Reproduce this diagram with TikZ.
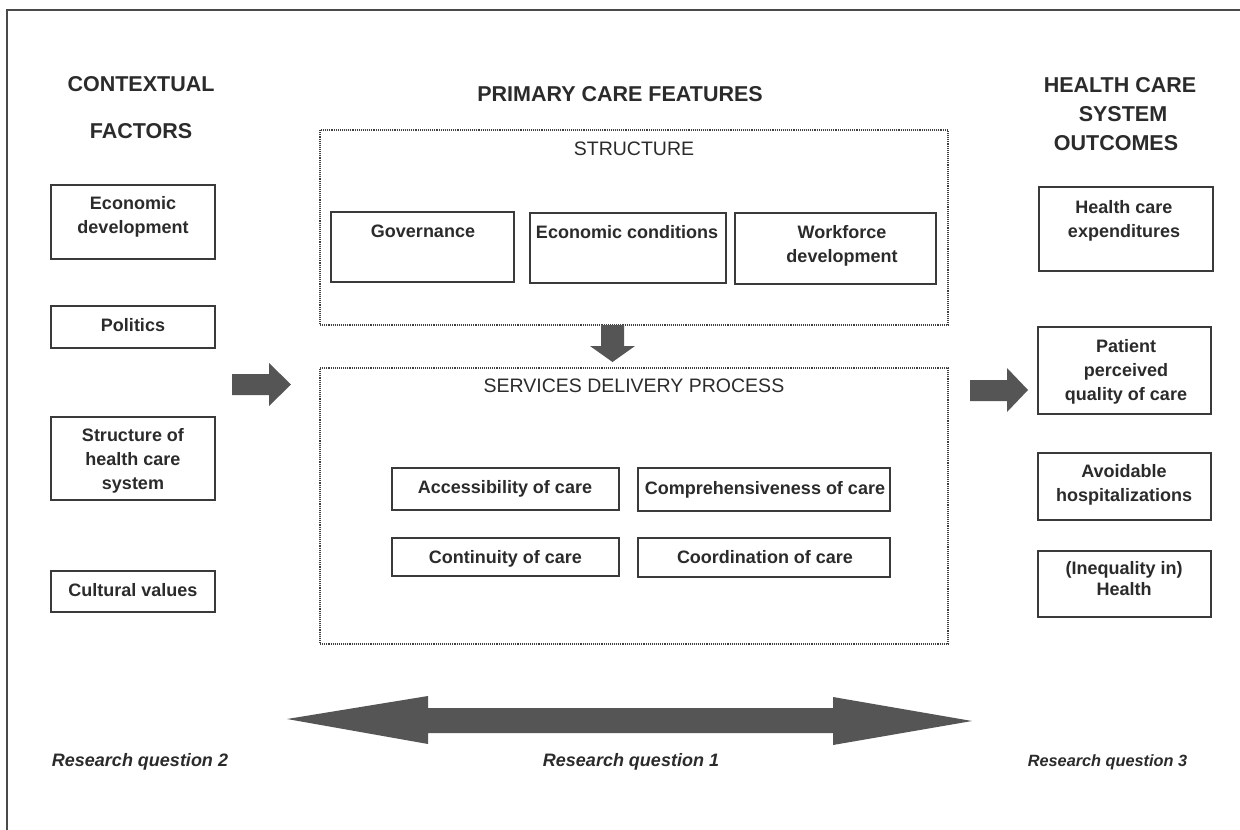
\documentclass[tikz,border=0pt]{standalone}
\usepackage{fontspec}
\setmainfont{Liberation Sans}
\definecolor{ink}{HTML}{2B2B2B}
\definecolor{boxline}{HTML}{3A3A3A}
\definecolor{dotline}{HTML}{404040}
\definecolor{arrowfill}{HTML}{555555}
\definecolor{framecol}{HTML}{4A4A4A}
\begin{document}
\begin{tikzpicture}[x=1pt,y=-1pt,
  box/.style={draw=boxline, line width=1.4pt, inner sep=0pt},
  cont/.style={draw=dotline, line width=1.1pt, densely dotted, inner sep=0pt},
  bt/.style={text=ink, font=\fontsize{18}{24}\selectfont\bfseries, align=center, text depth=0pt, inner sep=0pt},
  head/.style={text=ink, font=\fontsize{21.5}{29}\selectfont\bfseries, align=center, text depth=0pt, inner sep=0pt},
  ttl/.style={text=ink, font=\fontsize{19.5}{24}\selectfont, align=center, text depth=0pt, inner sep=0pt},
  rq/.style={text=ink, font=\fontsize{18}{22}\selectfont\bfseries\itshape, text depth=0pt, inner sep=0pt},
  blockarrow/.style={fill=arrowfill}]
\useasboundingbox (0,0) rectangle (1240,830);
\fill[white] (0,0) rectangle (1240,830);
% outer frame
\draw[framecol, line width=1.5pt] (7,830) -- (7,10) -- (1240,10);

% headings
\node[head] (h1a) at (141,84) {CONTEXTUAL};
\node[head] (h1b) at (141,130.5) {FACTORS};
\node[head] (h2) at (620,94) {PRIMARY CARE FEATURES};
\node[head] (h3a) at (1120,85) {HEALTH CARE};
\node[head] (h3b) at (1123,114) {SYSTEM};
\node[head] (h3c) at (1116,143) {OUTCOMES};

% left column
\node[box, minimum width=164pt, minimum height=74pt] (econdev) at (133,222) {};
\node[bt] (econdevt) at (133,215) {Economic\\development};
\node[box, minimum width=164pt, minimum height=42pt] (politics) at (133,327) {};
\node[bt] (politicst) at (133,324.5) {Politics};
\node[box, minimum width=164pt, minimum height=83pt] (structhc) at (133,458.5) {};
\node[bt] (structhct) at (133,459) {Structure of\\health care\\system};
\node[box, minimum width=164pt, minimum height=41pt] (cultural) at (133,591.5) {};
\node[bt] (culturalt) at (133,589.5) {Cultural values};

% structure container
\node[cont, minimum width=628pt, minimum height=195pt] (structure) at (634,227.5) {};
\node[ttl] (structuret) at (634,149) {STRUCTURE};
\node[box, minimum width=183pt, minimum height=70pt] (gov) at (422.5,247) {};
\node[bt] (govt) at (423,231) {Governance};
\node[box, minimum width=196pt, minimum height=70pt] (econcond) at (628,248) {};
\node[bt] (econcondt) at (627,232) {Economic conditions};
\node[box, minimum width=201pt, minimum height=71pt] (workforce) at (835.5,248.5) {};
\node[bt] (workforcet) at (842,243.5) {Workforce\\development};

% services container
\node[cont, minimum width=628pt, minimum height=276pt] (services) at (634,506) {};
\node[ttl] (servicest) at (634,385.5) {SERVICES DELIVERY PROCESS};
\node[box, minimum width=227pt, minimum height=42pt] (access) at (505.5,489) {};
\node[bt] (accesst) at (505,487) {Accessibility of care};
\node[box, minimum width=252pt, minimum height=43pt] (compre) at (764,489.5) {};
\node[bt] (compret) at (765,488) {Comprehensiveness of care};
\node[box, minimum width=227pt, minimum height=38pt] (contin) at (505.5,557) {};
\node[bt] (contint) at (505.5,556.5) {Continuity of care};
\node[box, minimum width=252pt, minimum height=39pt] (coord) at (764,557.5) {};
\node[bt] (coordt) at (765,557) {Coordination of care};

% right column
\node[box, minimum width=174pt, minimum height=84pt] (hce) at (1126,229) {};
\node[bt] (hcet) at (1124,219) {Health care\\expenditures};
\node[box, minimum width=173pt, minimum height=87pt] (patient) at (1124.5,370.5) {};
\node[bt] (patientt) at (1126,370) {Patient\\perceived\\quality of care};
\node[box, minimum width=173pt, minimum height=67pt] (avoid) at (1124.5,486.5) {};
\node[bt] (avoidt) at (1124,482.5) {Avoidable\\hospitalizations};
\node[box, minimum width=173pt, minimum height=66pt] (inequal) at (1124.5,584) {};
\node[bt, font=\fontsize{18}{20.5}\selectfont\bfseries] (inequalt) at (1124,578.5) {(Inequality in)\\Health};

% block arrows
\fill[blockarrow] (232,374) -- (269,374) -- (269,363) -- (291,384.5) -- (269,406) -- (269,395) -- (232,395) -- cycle;
\fill[blockarrow] (970,380) -- (1007,380) -- (1007,368) -- (1028,390) -- (1007,412) -- (1007,401) -- (970,401) -- cycle;
\fill[blockarrow] (601,325) -- (624,325) -- (624,346) -- (635,346) -- (612.5,362) -- (590,346) -- (601,346) -- cycle;
\fill[blockarrow] (287,719) -- (428,696) -- (428,708) -- (833,708) -- (833,697) -- (972,721) -- (833,745) -- (833,733) -- (428,733) -- (428,744) -- cycle;

% research questions
\node[rq] (rq2) at (140,760) {Research question 2};
\node[rq] (rq1) at (631,760) {Research question 1};
\node[rq, font=\fontsize{16.3}{20}\selectfont\bfseries\itshape] (rq3) at (1107.5,761) {Research question 3};
\end{tikzpicture}
\end{document}
